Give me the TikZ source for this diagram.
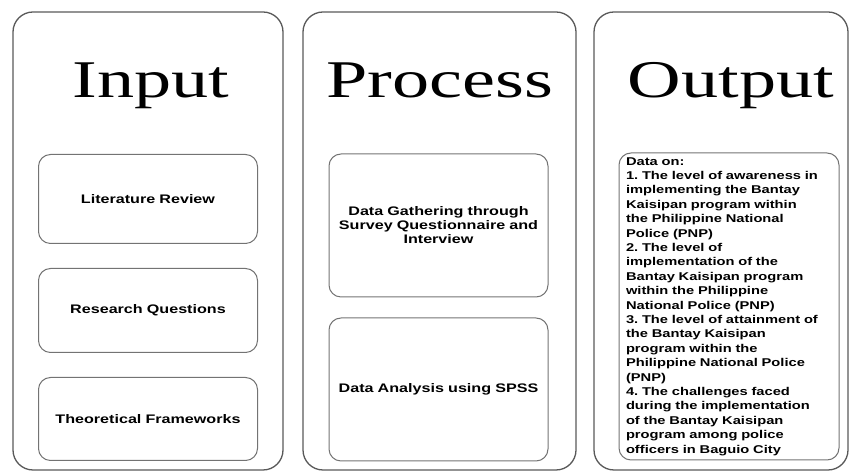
\documentclass[tikz,border=0pt]{standalone}
\usepackage{fontspec}
\newfontfamily\titlefont[FakeStretch=1.4]{Liberation Serif}
\newfontfamily\boxfont[FakeStretch=1.3]{Liberation Sans}
\usetikzlibrary{positioning}
\frenchspacing
\tikzset{
  panel/.style={
    rectangle,
    rounded corners=20pt,
    draw=black!65, line width=1.3pt,
    minimum height=458pt},
  heading/.style={
    anchor=base,
    font=\titlefont\fontsize{53}{60}\selectfont},
  punkt/.style={
    rectangle,
    rounded corners=12pt,
    draw=black!55, line width=1pt,
    minimum width=219pt,
    text width=205pt,
    align=center,
    font=\boxfont\bfseries\fontsize{12.4}{14}\selectfont},
}

\begin{document}
\begin{tikzpicture}
[x=1pt, y=1pt, node distance=24pt]
  \useasboundingbox (0,0) rectangle (855,476);

  % the three columns
  \node [panel, minimum width=270pt](inpanel) at (148,235) {};
  \node [panel, minimum width=273pt](procpanel) at (439.5,235) {};
  \node [panel, minimum width=254pt](outpanel) at (721,235) {};

  \node [heading](intitle) at (151,378.5) {Input};
  \node [heading](proctitle) at (440,378.5) {Process};
  \node [heading](outtitle) at (731,378.5) {Output};

  % input
  \node [punkt, minimum height=89pt](litrev) at (148,277) {Literature Review};
  \node [punkt, minimum height=84pt, below=of litrev](resq){Research Questions};
  \node [punkt, minimum height=83pt, below=of resq](theofw){Theoretical Frameworks};

  % process
  \node [punkt, minimum height=143pt](gather) at (438.5,250.5) {Data Gathering through\\
                                                                  Survey Questionnaire and\\ Interview};
  \node [punkt, minimum height=143pt, below=20pt of gather](spss){Data Analysis using SPSS};

  % output
  \node [punkt, minimum width=220pt, minimum height=307pt, align=left, text width=206pt,
         font=\boxfont\bfseries\fontsize{11.3}{14.4}\selectfont](outdata) at (729,169.5)
        {Data on:\\
         1. The level of awareness in\\
         implementing the Bantay\\
         Kaisipan program within\\
         the Philippine National\\
         Police (PNP)\\
         2. The level of\\
         implementation of the\\
         Bantay Kaisipan program\\
         within the Philippine\\
         National Police (PNP)\\
         3. The level of attainment of\\
         the Bantay Kaisipan\\
         program within the\\
         Philippine National Police\\
         (PNP)\\
         4. The challenges faced\\
         during the implementation\\
         of the Bantay Kaisipan\\
         program among police\\
         officers in Baguio City};

\end{tikzpicture}
\end{document}
